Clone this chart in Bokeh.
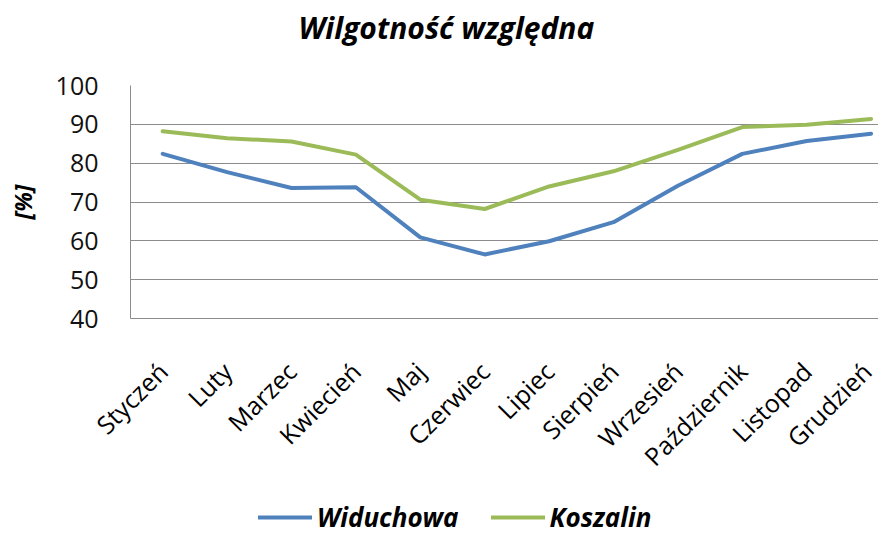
import math
from bokeh.plotting import figure
from bokeh.models import Range1d, FixedTicker, Legend, LegendItem
from bokeh.layouts import column
from bokeh.embed import file_html
from bokeh.resources import INLINE

months = ["Styczeń", "Luty", "Marzec", "Kwiecień", "Maj", "Czerwiec",
          "Lipiec", "Sierpień", "Wrzesień", "Październik", "Listopad", "Grudzień"]
widuchowa = [82.4, 77.7, 73.6, 73.8, 60.9, 56.5, 59.9, 64.8, 74.2, 82.4, 85.7, 87.6]
koszalin = [88.2, 86.4, 85.6, 82.2, 70.6, 68.2, 74.0, 77.9, 83.4, 89.3, 89.9, 91.4]
series_names = ["Widuchowa", "Koszalin"]
y_ticks = [40, 50, 60, 70, 80, 90, 100]
title_text = "Wilgotność względna"
y_label = "[%]"

FONT = "Open Sans"
BLUE = "#4F81BD"
GREEN = "#9BBB59"
GRID = "#8C8C8C"

xs = list(range(len(months)))


def strip(height):
    f = figure(width=878, height=height, output_backend="svg", toolbar_location=None,
               x_axis_type=None, y_axis_type=None,
               x_range=Range1d(0, 1), y_range=Range1d(0, 1),
               min_border_left=0, min_border_right=0, min_border_top=0, min_border_bottom=0)
    f.outline_line_color = None
    f.xgrid.visible = False
    f.ygrid.visible = False
    return f


# title strip
p0 = strip(58)
p0.title.text = title_text
p0.title.text_font = FONT
p0.title.text_font_style = "bold italic"
p0.title.text_font_size = "30px"
p0.title.align = "left"
p0.title.offset = 168
p0.title.vertical_align = "top"
p0.title.standoff = 12
p0.title.text_color = "black"

# main chart
p = figure(width=878, height=432, output_backend="svg", toolbar_location=None,
           x_range=Range1d(-0.5, 11.115), y_range=Range1d(40, 100),
           min_border_left=130, min_border_right=0, min_border_top=27,
           min_border_bottom=172)
p.outline_line_color = None

p.line(xs, widuchowa, line_color=BLUE, line_width=4, line_join="round", line_cap="round")
p.line(xs, koszalin, line_color=GREEN, line_width=4, line_join="round", line_cap="round")

p.xgrid.visible = False
p.ygrid.grid_line_color = GRID
p.ygrid.grid_line_width = 1
p.ygrid.ticker = FixedTicker(ticks=y_ticks)

xa = p.xaxis[0]
xa.ticker = FixedTicker(ticks=xs)
xa.major_label_overrides = {i: m for i, m in zip(xs, months)}
xa.major_label_orientation = math.pi / 4
xa.major_label_text_font = FONT
xa.major_label_text_font_size = "25px"
xa.major_label_text_color = "black"
xa.major_tick_line_color = None
xa.minor_tick_line_color = None
xa.axis_line_color = GRID
xa.major_label_standoff = 42

ya = p.yaxis[0]
ya.ticker = FixedTicker(ticks=y_ticks)
ya.major_label_text_font = FONT
ya.major_label_text_font_size = "25px"
ya.major_label_text_color = "#111111"
ya.major_tick_line_color = None
ya.minor_tick_line_color = None
ya.axis_line_color = GRID
ya.major_label_standoff = 26
ya.axis_label = y_label
ya.axis_label_text_font = FONT
ya.axis_label_text_font_style = "bold italic"
ya.axis_label_text_font_size = "23px"
ya.axis_label_text_color = "black"
ya.axis_label_standoff = 14

# legend strip under the chart (series drawn out of view, only legend shows)
p2 = strip(44)
l1 = p2.line(xs, widuchowa, line_color=BLUE, line_width=4, line_cap="round")
l2 = p2.line(xs, koszalin, line_color=GREEN, line_width=4, line_cap="round")
legend = Legend(items=[LegendItem(label=series_names[0], renderers=[l1]),
                       LegendItem(label=series_names[1], renderers=[l2])],
                orientation="horizontal", location=(128, -1),
                label_text_font=FONT, label_text_font_style="bold italic",
                label_text_font_size="26px", label_text_color="black",
                glyph_width=54, glyph_height=24,
                label_height=24, label_standoff=5, spacing=32, padding=0, margin=0,
                border_line_color=None, background_fill_alpha=0)
p2.add_layout(legend, "center")

layout = column(p0, p, p2, spacing=0)
open("out.html", "w").write(file_html(layout, INLINE))
